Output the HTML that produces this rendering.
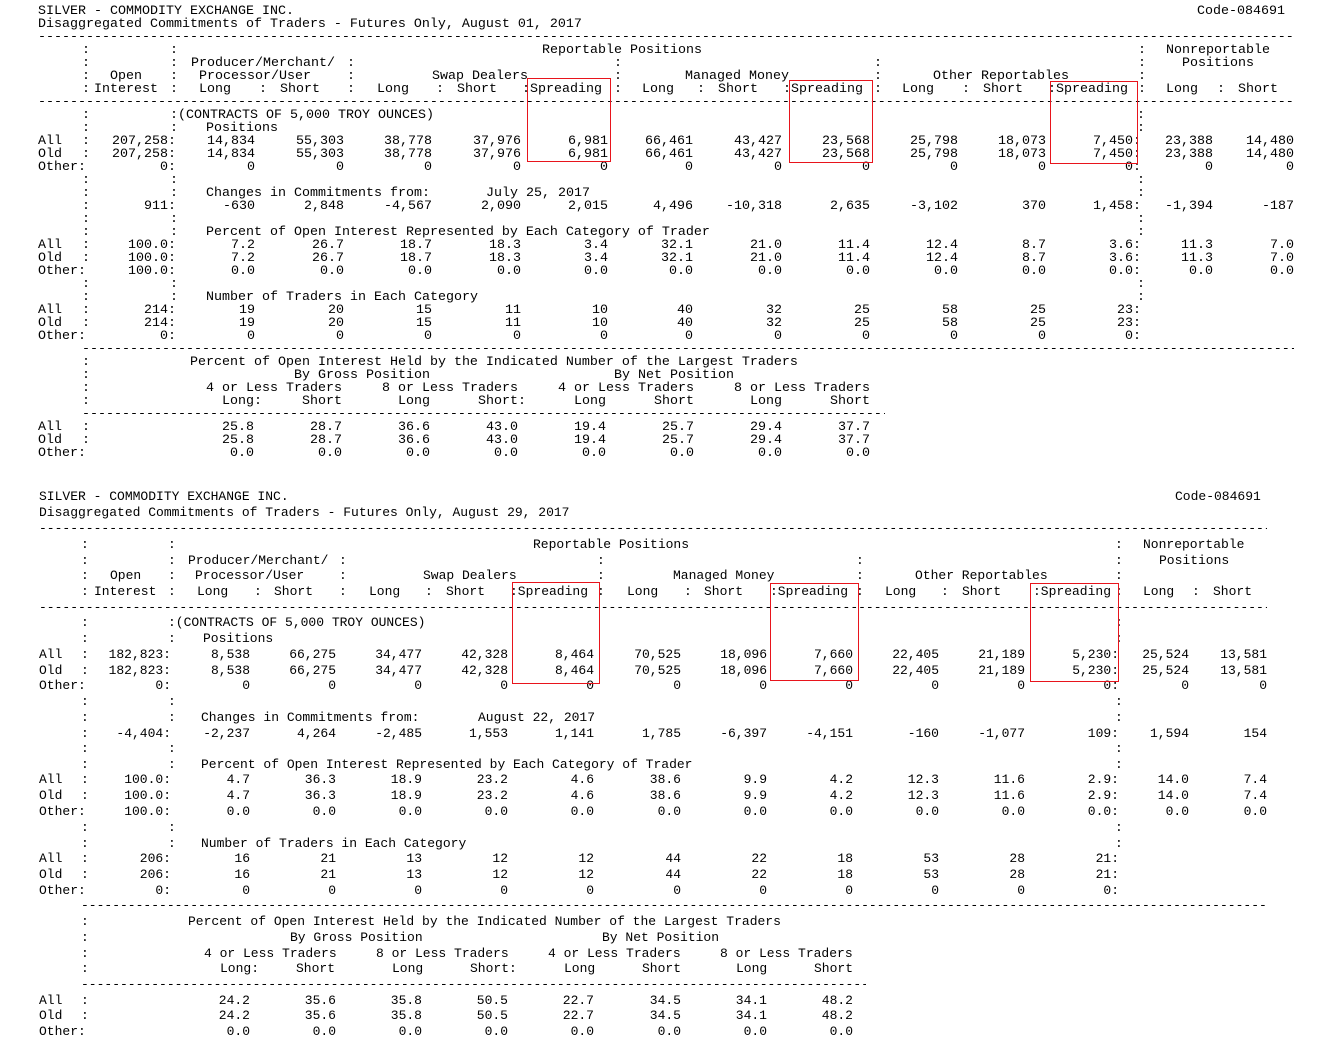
<!DOCTYPE html>
<html><head><meta charset="utf-8"><style>
html,body{margin:0;padding:0;background:#fff;}
body{width:1324px;height:1054px;position:relative;overflow:hidden;color:#000;}
.r{position:absolute;left:0;width:1324px;height:16px;white-space:pre;font-family:"Liberation Mono",monospace;}
.A{font-size:13.33px;line-height:15px;}
.B{font-size:13px;line-height:16px;}
.r span{position:absolute;top:0;}
.d{position:absolute;overflow:hidden;white-space:pre;font-family:"Liberation Mono",monospace;height:16px;}
.box{position:absolute;border:1px solid #e8141c;}
</style></head><body>

<!-- ===================== TOP BLOCK ===================== -->
<div class="r A" style="top:3.5px"><span style="left:38px">SILVER - COMMODITY EXCHANGE INC.</span><span style="left:1197px">Code-084691</span></div>
<div class="r A" style="top:16.5px"><span style="left:38px">Disaggregated Commitments of Traders - Futures Only, August 01, 2017</span></div>
<div class="d A" style="top:29.5px;left:38px;width:1256px">--------------------------------------------------------------------------------------------------------------------------------------------------------------------------------</div>
<div class="r A" style="top:42.5px"><span style="left:82px">:</span><span style="left:170px">:</span><span style="left:542px">Reportable Positions</span><span style="left:1138px">:</span><span style="left:1166px">Nonreportable</span></div>
<div class="r A" style="top:55.5px"><span style="left:82px">:</span><span style="left:170px">:</span><span style="left:191px">Producer/Merchant/</span><span style="left:347px">:</span><span style="left:614px">:</span><span style="left:874px">:</span><span style="left:1138px">:</span><span style="left:1182px">Positions</span></div>
<div class="r A" style="top:68.5px"><span style="left:82px">:</span><span style="left:110px">Open</span><span style="left:170px">:</span><span style="left:199px">Processor/User</span><span style="left:347px">:</span><span style="left:432px">Swap Dealers</span><span style="left:614px">:</span><span style="left:685px">Managed Money</span><span style="left:874px">:</span><span style="left:933px">Other Reportables</span><span style="left:1138px">:</span></div>
<div class="r A" style="top:81.5px"><span style="left:82px">:</span><span style="left:94px">Interest</span><span style="left:170px">:</span><span style="left:199px">Long</span><span style="left:259px">:</span><span style="left:280px">Short</span><span style="left:347px">:</span><span style="left:377px">Long</span><span style="left:436px">:</span><span style="left:457px">Short</span><span style="left:522px">:Spreading</span><span style="left:614px">:</span><span style="left:642px">Long</span><span style="left:697px">:</span><span style="left:718px">Short</span><span style="left:783px">:Spreading</span><span style="left:874px">:</span><span style="left:902px">Long</span><span style="left:962px">:</span><span style="left:983px">Short</span><span style="left:1048px">:Spreading</span><span style="left:1138px">:</span><span style="left:1166px">Long</span><span style="left:1217px">:</span><span style="left:1238px">Short</span></div>
<div class="d A" style="top:94.5px;left:38px;width:1256px">--------------------------------------------------------------------------------------------------------------------------------------------------------------------------------</div>
<div class="r A" style="top:107.5px"><span style="left:82px">:</span><span style="left:170px">:(CONTRACTS OF 5,000 TROY OUNCES)</span><span style="left:1137px">:</span></div>
<div class="r A" style="top:120.5px"><span style="left:82px">:</span><span style="left:170px">:</span><span style="left:206px">Positions</span><span style="left:1137px">:</span></div>
<div class="r A" style="top:133.5px"><span style="left:38px">All</span><span style="left:82px">:</span><span style="right:1148px">207,258:</span><span style="right:1069px">14,834</span><span style="right:980px">55,303</span><span style="right:892px">38,778</span><span style="right:803px">37,976</span><span style="right:716px">6,981</span><span style="right:631px">66,461</span><span style="right:542px">43,427</span><span style="right:454px">23,568</span><span style="right:366px">25,798</span><span style="right:278px">18,073</span><span style="right:183px">7,450:</span><span style="right:111px">23,388</span><span style="right:30px">14,480</span></div>
<div class="r A" style="top:146.5px"><span style="left:38px">Old</span><span style="left:82px">:</span><span style="right:1148px">207,258:</span><span style="right:1069px">14,834</span><span style="right:980px">55,303</span><span style="right:892px">38,778</span><span style="right:803px">37,976</span><span style="right:716px">6,981</span><span style="right:631px">66,461</span><span style="right:542px">43,427</span><span style="right:454px">23,568</span><span style="right:366px">25,798</span><span style="right:278px">18,073</span><span style="right:183px">7,450:</span><span style="right:111px">23,388</span><span style="right:30px">14,480</span></div>
<div class="r A" style="top:159.5px"><span style="left:38px">Other:</span><span style="right:1148px">0:</span><span style="right:1069px">0</span><span style="right:980px">0</span><span style="right:892px">0</span><span style="right:803px">0</span><span style="right:716px">0</span><span style="right:631px">0</span><span style="right:542px">0</span><span style="right:454px">0</span><span style="right:366px">0</span><span style="right:278px">0</span><span style="right:183px">0:</span><span style="right:111px">0</span><span style="right:30px">0</span></div>
<div class="r A" style="top:172.5px"><span style="left:82px">:</span><span style="left:170px">:</span><span style="left:1137px">:</span></div>
<div class="r A" style="top:185.5px"><span style="left:82px">:</span><span style="left:170px">:</span><span style="left:206px">Changes in Commitments from:</span><span style="left:486px">July 25, 2017</span><span style="left:1137px">:</span></div>
<div class="r A" style="top:198.5px"><span style="left:82px">:</span><span style="right:1148px">911:</span><span style="right:1069px">-630</span><span style="right:980px">2,848</span><span style="right:892px">-4,567</span><span style="right:803px">2,090</span><span style="right:716px">2,015</span><span style="right:631px">4,496</span><span style="right:542px">-10,318</span><span style="right:454px">2,635</span><span style="right:366px">-3,102</span><span style="right:278px">370</span><span style="right:183px">1,458:</span><span style="right:111px">-1,394</span><span style="right:30px">-187</span></div>
<div class="r A" style="top:211.5px"><span style="left:82px">:</span><span style="left:170px">:</span><span style="left:1137px">:</span></div>
<div class="r A" style="top:224.5px"><span style="left:82px">:</span><span style="left:170px">:</span><span style="left:206px">Percent of Open Interest Represented by Each Category of Trader</span><span style="left:1137px">:</span></div>
<div class="r A" style="top:237.5px"><span style="left:38px">All</span><span style="left:82px">:</span><span style="right:1148px">100.0:</span><span style="right:1069px">7.2</span><span style="right:980px">26.7</span><span style="right:892px">18.7</span><span style="right:803px">18.3</span><span style="right:716px">3.4</span><span style="right:631px">32.1</span><span style="right:542px">21.0</span><span style="right:454px">11.4</span><span style="right:366px">12.4</span><span style="right:278px">8.7</span><span style="right:183px">3.6:</span><span style="right:111px">11.3</span><span style="right:30px">7.0</span></div>
<div class="r A" style="top:250.5px"><span style="left:38px">Old</span><span style="left:82px">:</span><span style="right:1148px">100.0:</span><span style="right:1069px">7.2</span><span style="right:980px">26.7</span><span style="right:892px">18.7</span><span style="right:803px">18.3</span><span style="right:716px">3.4</span><span style="right:631px">32.1</span><span style="right:542px">21.0</span><span style="right:454px">11.4</span><span style="right:366px">12.4</span><span style="right:278px">8.7</span><span style="right:183px">3.6:</span><span style="right:111px">11.3</span><span style="right:30px">7.0</span></div>
<div class="r A" style="top:263.5px"><span style="left:38px">Other:</span><span style="right:1148px">100.0:</span><span style="right:1069px">0.0</span><span style="right:980px">0.0</span><span style="right:892px">0.0</span><span style="right:803px">0.0</span><span style="right:716px">0.0</span><span style="right:631px">0.0</span><span style="right:542px">0.0</span><span style="right:454px">0.0</span><span style="right:366px">0.0</span><span style="right:278px">0.0</span><span style="right:183px">0.0:</span><span style="right:111px">0.0</span><span style="right:30px">0.0</span></div>
<div class="r A" style="top:276.5px"><span style="left:82px">:</span><span style="left:170px">:</span><span style="left:1137px">:</span></div>
<div class="r A" style="top:289.5px"><span style="left:82px">:</span><span style="left:170px">:</span><span style="left:206px">Number of Traders in Each Category</span><span style="left:1137px">:</span></div>
<div class="r A" style="top:302.5px"><span style="left:38px">All</span><span style="left:82px">:</span><span style="right:1148px">214:</span><span style="right:1069px">19</span><span style="right:980px">20</span><span style="right:892px">15</span><span style="right:803px">11</span><span style="right:716px">10</span><span style="right:631px">40</span><span style="right:542px">32</span><span style="right:454px">25</span><span style="right:366px">58</span><span style="right:278px">25</span><span style="right:183px">23:</span></div>
<div class="r A" style="top:315.5px"><span style="left:38px">Old</span><span style="left:82px">:</span><span style="right:1148px">214:</span><span style="right:1069px">19</span><span style="right:980px">20</span><span style="right:892px">15</span><span style="right:803px">11</span><span style="right:716px">10</span><span style="right:631px">40</span><span style="right:542px">32</span><span style="right:454px">25</span><span style="right:366px">58</span><span style="right:278px">25</span><span style="right:183px">23:</span></div>
<div class="r A" style="top:328.5px"><span style="left:38px">Other:</span><span style="right:1148px">0:</span><span style="right:1069px">0</span><span style="right:980px">0</span><span style="right:892px">0</span><span style="right:803px">0</span><span style="right:716px">0</span><span style="right:631px">0</span><span style="right:542px">0</span><span style="right:454px">0</span><span style="right:366px">0</span><span style="right:278px">0</span><span style="right:183px">0:</span></div>
<div class="d A" style="top:341.5px;left:82px;width:1212px">--------------------------------------------------------------------------------------------------------------------------------------------------------------------------------</div>
<div class="r A" style="top:354.5px"><span style="left:82px">:</span><span style="left:190px">Percent of Open Interest Held by the Indicated Number of the Largest Traders</span></div>
<div class="r A" style="top:367.5px"><span style="left:82px">:</span><span style="left:294px">By Gross Position</span><span style="left:614px">By Net Position</span></div>
<div class="r A" style="top:380.5px"><span style="left:82px">:</span><span style="left:206px">4 or Less Traders</span><span style="left:382px">8 or Less Traders</span><span style="left:558px">4 or Less Traders</span><span style="left:734px">8 or Less Traders</span></div>
<div class="r A" style="top:393.5px"><span style="left:82px">:</span><span style="left:222px">Long:</span><span style="left:302px">Short</span><span style="left:398px">Long</span><span style="left:478px">Short:</span><span style="left:574px">Long</span><span style="left:654px">Short</span><span style="left:750px">Long</span><span style="left:830px">Short</span></div>
<div class="d A" style="top:406.5px;left:82px;width:803px">--------------------------------------------------------------------------------------------------------------------</div>
<div class="r A" style="top:419.5px"><span style="left:38px">All</span><span style="left:82px">:</span><span style="right:1070px">25.8</span><span style="right:982px">28.7</span><span style="right:894px">36.6</span><span style="right:806px">43.0</span><span style="right:718px">19.4</span><span style="right:630px">25.7</span><span style="right:542px">29.4</span><span style="right:454px">37.7</span></div>
<div class="r A" style="top:432.5px"><span style="left:38px">Old</span><span style="left:82px">:</span><span style="right:1070px">25.8</span><span style="right:982px">28.7</span><span style="right:894px">36.6</span><span style="right:806px">43.0</span><span style="right:718px">19.4</span><span style="right:630px">25.7</span><span style="right:542px">29.4</span><span style="right:454px">37.7</span></div>
<div class="r A" style="top:445.5px"><span style="left:38px">Other:</span><span style="right:1070px">0.0</span><span style="right:982px">0.0</span><span style="right:894px">0.0</span><span style="right:806px">0.0</span><span style="right:718px">0.0</span><span style="right:630px">0.0</span><span style="right:542px">0.0</span><span style="right:454px">0.0</span></div>

<div class="box" style="left:527px;top:78px;width:82px;height:82px"></div>
<div class="box" style="left:789px;top:80px;width:82px;height:81px"></div>
<div class="box" style="left:1050px;top:81px;width:86px;height:81px"></div>

<!-- ===================== BOTTOM BLOCK ===================== -->
<div class="r B" style="top:489px"><span style="left:39px">SILVER - COMMODITY EXCHANGE INC.</span><span style="left:1175px">Code-084691</span></div>
<div class="r B" style="top:505px"><span style="left:39px">Disaggregated Commitments of Traders - Futures Only, August 29, 2017</span></div>
<div class="d B" style="top:521px;left:39px;width:1228px">--------------------------------------------------------------------------------------------------------------------------------------------------------------------------------</div>
<div class="r B" style="top:537px"><span style="left:81px">:</span><span style="left:168px">:</span><span style="left:533px">Reportable Positions</span><span style="left:1115px">:</span><span style="left:1143px">Nonreportable</span></div>
<div class="r B" style="top:552.5px"><span style="left:81px">:</span><span style="left:168px">:</span><span style="left:188px">Producer/Merchant/</span><span style="left:339px">:</span><span style="left:597px">:</span><span style="left:856px">:</span><span style="left:1115px">:</span><span style="left:1159px">Positions</span></div>
<div class="r B" style="top:568px"><span style="left:81px">:</span><span style="left:110px">Open</span><span style="left:168px">:</span><span style="left:195px">Processor/User</span><span style="left:339px">:</span><span style="left:423px">Swap Dealers</span><span style="left:597px">:</span><span style="left:673px">Managed Money</span><span style="left:856px">:</span><span style="left:915px">Other Reportables</span><span style="left:1115px">:</span></div>
<div class="r B" style="top:584px"><span style="left:81px">:</span><span style="left:94px">Interest</span><span style="left:168px">:</span><span style="left:197px">Long</span><span style="left:254px">:</span><span style="left:274px">Short</span><span style="left:339px">:</span><span style="left:369px">Long</span><span style="left:425px">:</span><span style="left:446px">Short</span><span style="left:510px">:Spreading</span><span style="left:597px">:</span><span style="left:627px">Long</span><span style="left:684px">:</span><span style="left:704px">Short</span><span style="left:770px">:Spreading</span><span style="left:856px">:</span><span style="left:885px">Long</span><span style="left:941px">:</span><span style="left:962px">Short</span><span style="left:1033px">:Spreading</span><span style="left:1115px">:</span><span style="left:1143px">Long</span><span style="left:1192px">:</span><span style="left:1213px">Short</span></div>
<div class="d B" style="top:600px;left:39px;width:1228px">--------------------------------------------------------------------------------------------------------------------------------------------------------------------------------</div>
<div class="r B" style="top:615px"><span style="left:81px">:</span><span style="left:168px">:(CONTRACTS OF 5,000 TROY OUNCES)</span><span style="left:1115px">:</span></div>
<div class="r B" style="top:631px"><span style="left:81px">:</span><span style="left:168px">:</span><span style="left:203px">Positions</span><span style="left:1115px">:</span></div>
<div class="r B" style="top:647px"><span style="left:39px">All</span><span style="left:81px">:</span><span style="right:1153px">182,823:</span><span style="right:1074px">8,538</span><span style="right:988px">66,275</span><span style="right:902px">34,477</span><span style="right:816px">42,328</span><span style="right:730px">8,464</span><span style="right:643px">70,525</span><span style="right:557px">18,096</span><span style="right:471px">7,660</span><span style="right:385px">22,405</span><span style="right:299px">21,189</span><span style="right:205px">5,230:</span><span style="right:135px">25,524</span><span style="right:57px">13,581</span></div>
<div class="r B" style="top:662.5px"><span style="left:39px">Old</span><span style="left:81px">:</span><span style="right:1153px">182,823:</span><span style="right:1074px">8,538</span><span style="right:988px">66,275</span><span style="right:902px">34,477</span><span style="right:816px">42,328</span><span style="right:730px">8,464</span><span style="right:643px">70,525</span><span style="right:557px">18,096</span><span style="right:471px">7,660</span><span style="right:385px">22,405</span><span style="right:299px">21,189</span><span style="right:205px">5,230:</span><span style="right:135px">25,524</span><span style="right:57px">13,581</span></div>
<div class="r B" style="top:678px"><span style="left:39px">Other:</span><span style="right:1153px">0:</span><span style="right:1074px">0</span><span style="right:988px">0</span><span style="right:902px">0</span><span style="right:816px">0</span><span style="right:730px">0</span><span style="right:643px">0</span><span style="right:557px">0</span><span style="right:471px">0</span><span style="right:385px">0</span><span style="right:299px">0</span><span style="right:205px">0:</span><span style="right:135px">0</span><span style="right:57px">0</span></div>
<div class="r B" style="top:694px"><span style="left:81px">:</span><span style="left:168px">:</span><span style="left:1115px">:</span></div>
<div class="r B" style="top:710px"><span style="left:81px">:</span><span style="left:168px">:</span><span style="left:201px">Changes in Commitments from:</span><span style="left:478px">August 22, 2017</span><span style="left:1115px">:</span></div>
<div class="r B" style="top:725.5px"><span style="left:81px">:</span><span style="right:1153px">-4,404:</span><span style="right:1074px">-2,237</span><span style="right:988px">4,264</span><span style="right:902px">-2,485</span><span style="right:816px">1,553</span><span style="right:730px">1,141</span><span style="right:643px">1,785</span><span style="right:557px">-6,397</span><span style="right:471px">-4,151</span><span style="right:385px">-160</span><span style="right:299px">-1,077</span><span style="right:205px">109:</span><span style="right:135px">1,594</span><span style="right:57px">154</span></div>
<div class="r B" style="top:741px"><span style="left:81px">:</span><span style="left:168px">:</span><span style="left:1115px">:</span></div>
<div class="r B" style="top:757px"><span style="left:81px">:</span><span style="left:168px">:</span><span style="left:201px">Percent of Open Interest Represented by Each Category of Trader</span><span style="left:1115px">:</span></div>
<div class="r B" style="top:772px"><span style="left:39px">All</span><span style="left:81px">:</span><span style="right:1153px">100.0:</span><span style="right:1074px">4.7</span><span style="right:988px">36.3</span><span style="right:902px">18.9</span><span style="right:816px">23.2</span><span style="right:730px">4.6</span><span style="right:643px">38.6</span><span style="right:557px">9.9</span><span style="right:471px">4.2</span><span style="right:385px">12.3</span><span style="right:299px">11.6</span><span style="right:205px">2.9:</span><span style="right:135px">14.0</span><span style="right:57px">7.4</span></div>
<div class="r B" style="top:788px"><span style="left:39px">Old</span><span style="left:81px">:</span><span style="right:1153px">100.0:</span><span style="right:1074px">4.7</span><span style="right:988px">36.3</span><span style="right:902px">18.9</span><span style="right:816px">23.2</span><span style="right:730px">4.6</span><span style="right:643px">38.6</span><span style="right:557px">9.9</span><span style="right:471px">4.2</span><span style="right:385px">12.3</span><span style="right:299px">11.6</span><span style="right:205px">2.9:</span><span style="right:135px">14.0</span><span style="right:57px">7.4</span></div>
<div class="r B" style="top:804px"><span style="left:39px">Other:</span><span style="right:1153px">100.0:</span><span style="right:1074px">0.0</span><span style="right:988px">0.0</span><span style="right:902px">0.0</span><span style="right:816px">0.0</span><span style="right:730px">0.0</span><span style="right:643px">0.0</span><span style="right:557px">0.0</span><span style="right:471px">0.0</span><span style="right:385px">0.0</span><span style="right:299px">0.0</span><span style="right:205px">0.0:</span><span style="right:135px">0.0</span><span style="right:57px">0.0</span></div>
<div class="r B" style="top:820px"><span style="left:81px">:</span><span style="left:168px">:</span><span style="left:1115px">:</span></div>
<div class="r B" style="top:835.5px"><span style="left:81px">:</span><span style="left:168px">:</span><span style="left:201px">Number of Traders in Each Category</span><span style="left:1115px">:</span></div>
<div class="r B" style="top:851px"><span style="left:39px">All</span><span style="left:81px">:</span><span style="right:1153px">206:</span><span style="right:1074px">16</span><span style="right:988px">21</span><span style="right:902px">13</span><span style="right:816px">12</span><span style="right:730px">12</span><span style="right:643px">44</span><span style="right:557px">22</span><span style="right:471px">18</span><span style="right:385px">53</span><span style="right:299px">28</span><span style="right:205px">21:</span></div>
<div class="r B" style="top:867px"><span style="left:39px">Old</span><span style="left:81px">:</span><span style="right:1153px">206:</span><span style="right:1074px">16</span><span style="right:988px">21</span><span style="right:902px">13</span><span style="right:816px">12</span><span style="right:730px">12</span><span style="right:643px">44</span><span style="right:557px">22</span><span style="right:471px">18</span><span style="right:385px">53</span><span style="right:299px">28</span><span style="right:205px">21:</span></div>
<div class="r B" style="top:883px"><span style="left:39px">Other:</span><span style="right:1153px">0:</span><span style="right:1074px">0</span><span style="right:988px">0</span><span style="right:902px">0</span><span style="right:816px">0</span><span style="right:730px">0</span><span style="right:643px">0</span><span style="right:557px">0</span><span style="right:471px">0</span><span style="right:385px">0</span><span style="right:299px">0</span><span style="right:205px">0:</span></div>
<div class="d B" style="top:898px;left:81px;width:1186px">--------------------------------------------------------------------------------------------------------------------------------------------------------------------------------</div>
<div class="r B" style="top:914px"><span style="left:81px">:</span><span style="left:188px">Percent of Open Interest Held by the Indicated Number of the Largest Traders</span></div>
<div class="r B" style="top:930px"><span style="left:81px">:</span><span style="left:290px">By Gross Position</span><span style="left:602px">By Net Position</span></div>
<div class="r B" style="top:945.5px"><span style="left:81px">:</span><span style="left:204px">4 or Less Traders</span><span style="left:376px">8 or Less Traders</span><span style="left:548px">4 or Less Traders</span><span style="left:720px">8 or Less Traders</span></div>
<div class="r B" style="top:961px"><span style="left:81px">:</span><span style="left:220px">Long:</span><span style="left:296px">Short</span><span style="left:392px">Long</span><span style="left:470px">Short:</span><span style="left:564px">Long</span><span style="left:642px">Short</span><span style="left:736px">Long</span><span style="left:814px">Short</span></div>
<div class="d B" style="top:977px;left:81px;width:785px">--------------------------------------------------------------------------------------------------------------------</div>
<div class="r B" style="top:993px"><span style="left:39px">All</span><span style="left:81px">:</span><span style="right:1074px">24.2</span><span style="right:988px">35.6</span><span style="right:902px">35.8</span><span style="right:816px">50.5</span><span style="right:730px">22.7</span><span style="right:643px">34.5</span><span style="right:557px">34.1</span><span style="right:471px">48.2</span></div>
<div class="r B" style="top:1008px"><span style="left:39px">Old</span><span style="left:81px">:</span><span style="right:1074px">24.2</span><span style="right:988px">35.6</span><span style="right:902px">35.8</span><span style="right:816px">50.5</span><span style="right:730px">22.7</span><span style="right:643px">34.5</span><span style="right:557px">34.1</span><span style="right:471px">48.2</span></div>
<div class="r B" style="top:1024px"><span style="left:39px">Other:</span><span style="right:1074px">0.0</span><span style="right:988px">0.0</span><span style="right:902px">0.0</span><span style="right:816px">0.0</span><span style="right:730px">0.0</span><span style="right:643px">0.0</span><span style="right:557px">0.0</span><span style="right:471px">0.0</span></div>

<div class="box" style="left:512px;top:582px;width:86px;height:100px"></div>
<div class="box" style="left:770px;top:583px;width:87px;height:96px"></div>
<div class="box" style="left:1030px;top:583px;width:87px;height:97px"></div>

</body></html>
